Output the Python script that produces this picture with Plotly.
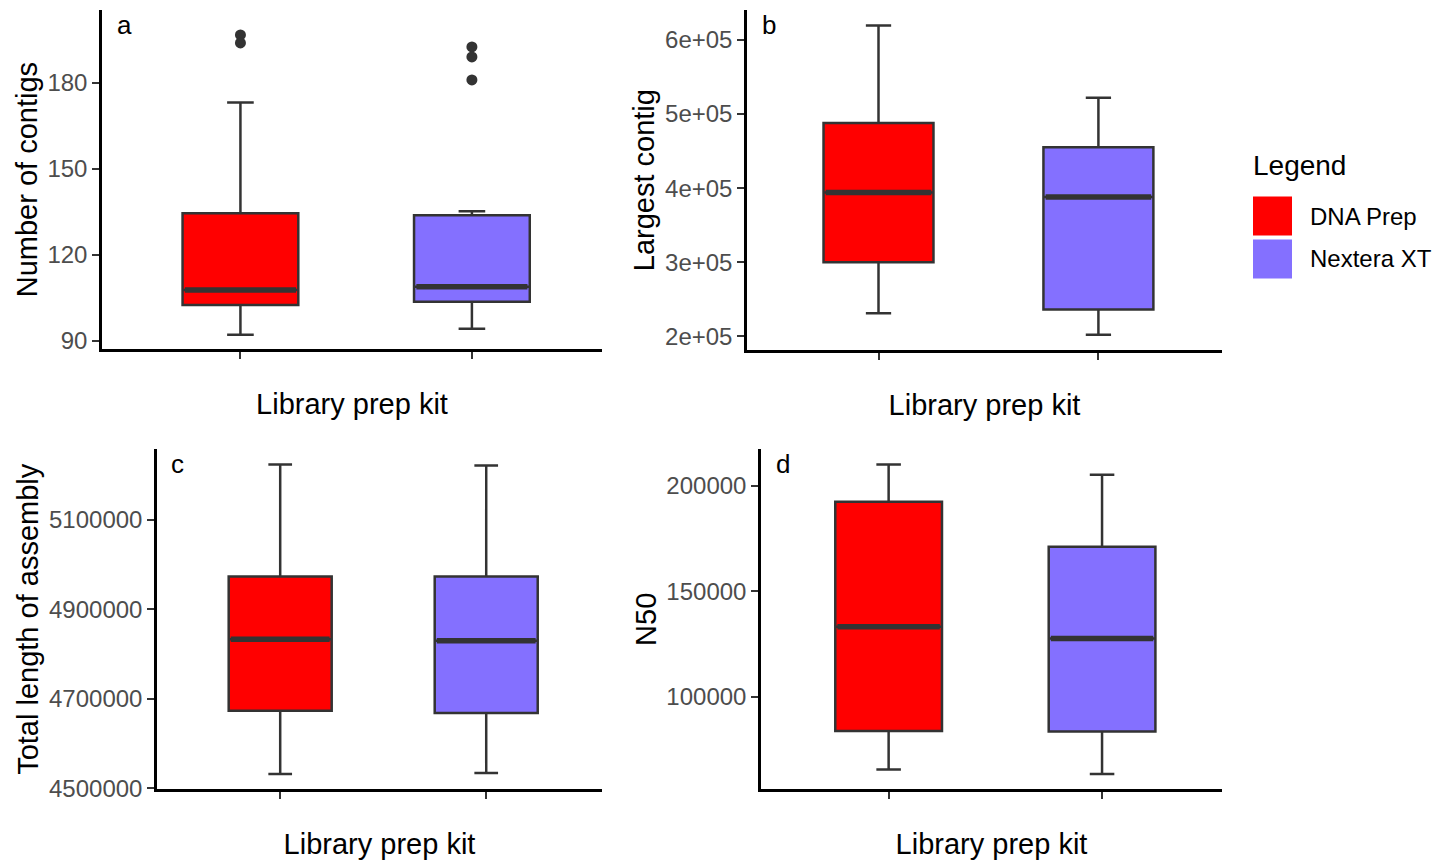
import plotly.graph_objects as go

# ---------------- data ----------------
kits = ["DNA Prep", "Nextera XT"]
kit_pos = [1, 2]
colors = ["#FF0000", "#8470FF"]

# panel a: Number of contigs
a_low = [92.1, 94.2]
a_q1 = [102.5, 103.6]
a_med = [107.7, 108.8]
a_q3 = [134.5, 133.8]
a_high = [173.1, 135.2]
a_outliers = [[196.7, 193.9], [192.5, 189.0, 181.0]]

# panel b: Largest contig
b_low = [231000, 202000]
b_q1 = [300000, 236000]
b_med = [394000, 388000]
b_q3 = [488000, 455000]
b_high = [619600, 522000]

# panel c: Total length of assembly
c_low = [4531800, 4534000]
c_q1 = [4673300, 4668100]
c_med = [4833300, 4829600]
c_q3 = [4973300, 4973300]
c_high = [5223800, 5222000]

# panel d: N50
d_low = [65470, 63360]
d_q1 = [83775, 83440]
d_med = [133160, 127620]
d_q3 = [192430, 171150]
d_high = [210120, 205200]

panels = [
    dict(name="a", title="Number of contigs", low=a_low, q1=a_q1, med=a_med, q3=a_q3, high=a_high,
         out=a_outliers, yrange=[87.0, 205.4], tickvals=[90, 120, 150, 180],
         ticktext=["90", "120", "150", "180"]),
    dict(name="b", title="Largest contig", low=b_low, q1=b_q1, med=b_med, q3=b_q3, high=b_high,
         out=None, yrange=[181000, 640500], tickvals=[200000, 300000, 400000, 500000, 600000],
         ticktext=["2e+05", "3e+05", "4e+05", "5e+05", "6e+05"]),
    dict(name="c", title="Total length of assembly", low=c_low, q1=c_q1, med=c_med, q3=c_q3, high=c_high,
         out=None, yrange=[4497200, 5258400], tickvals=[4500000, 4700000, 4900000, 5100000],
         ticktext=["4500000", "4700000", "4900000", "5100000"]),
    dict(name="d", title="N50", low=d_low, q1=d_q1, med=d_med, q3=d_q3, high=d_high,
         out=None, yrange=[56000, 217400], tickvals=[100000, 150000, 200000],
         ticktext=["100000", "150000", "200000"]),
]

# ---------------- layout geometry (pixels of 1447x861 canvas) ----------------
W, H = 1447, 861
SY = 1.0 / 0.988   # vertical correction for the photographed page
boxes_px = [  # x0, x1, ytop, ybottom
    (102, 602, 10, 350),
    (747, 1222, 10, 351),
    (157, 602, 450, 791),
    (761, 1222, 450, 791),
]
letter_px = [(124, 25), (769, 25), (177, 465), (783, 465)]


def fy(py):
    return 1 - py * SY / H


FONT = "Liberation Sans, Arial, Helvetica, sans-serif"
BOXW = 0.5

fig = go.Figure()
layout = dict(
    width=W, height=H, margin=dict(l=0, r=0, t=0, b=0),
    paper_bgcolor="white", plot_bgcolor="white", showlegend=False,
    font=dict(family=FONT, color="black"),
)
annotations = []
shapes = []

for i, p in enumerate(panels):
    k = "" if i == 0 else str(i + 1)
    xa, ya = "x" + k, "y" + k
    x0, x1, yt, yb = boxes_px[i]
    for j in range(2):
        fig.add_trace(go.Box(
            x=[kit_pos[j]], q1=[p["q1"][j]], median=[p["med"][j]], q3=[p["q3"][j]],
            lowerfence=[p["low"][j]], upperfence=[p["high"][j]],
            fillcolor=colors[j], line=dict(color="#333333", width=2.5),
            width=BOXW, whiskerwidth=0.23, boxpoints=False, name=kits[j],
            xaxis=xa, yaxis=ya, hoverinfo="skip",
        ))
        # thick median line (ggplot fatten)
        fig.add_trace(go.Scatter(
            x=[kit_pos[j] - BOXW / 2 + 0.01, kit_pos[j] + BOXW / 2 - 0.01],
            y=[p["med"][j], p["med"][j]], mode="lines",
            line=dict(color="#333333", width=5.5), xaxis=xa, yaxis=ya, hoverinfo="skip",
        ))
        if p["out"] is not None and p["out"][j]:
            fig.add_trace(go.Scatter(
                x=[kit_pos[j]] * len(p["out"][j]), y=p["out"][j], mode="markers",
                marker=dict(color="#333333", size=11), xaxis=xa, yaxis=ya, hoverinfo="skip",
            ))
    layout["xaxis" + k] = dict(
        domain=[x0 / W, x1 / W], anchor=ya, range=[0.402, 2.562],
        tickvals=kit_pos, ticktext=["", ""], showticklabels=False,
        ticks="outside", ticklen=7, tickwidth=2.2, tickcolor="#333333",
        showline=True, linecolor="black", linewidth=2.5, showgrid=False, zeroline=False,
        title=dict(text="Library prep kit", font=dict(size=29, color="black"), standoff=36),
        fixedrange=True,
    )
    layout["yaxis" + k] = dict(
        domain=[fy(yb), fy(yt)], anchor=xa, range=p["yrange"],
        tickvals=p["tickvals"], ticktext=p["ticktext"],
        tickfont=dict(size=24, color="#4D4D4D"),
        ticks="outside", ticklen=7, tickwidth=2.2, tickcolor="#333333",
        showline=True, linecolor="black", linewidth=2.5, showgrid=False, zeroline=False,
        title=dict(text=p["title"], font=dict(size=29, color="black"), standoff=2),
        fixedrange=True,
    )
    lx, ly = letter_px[i]
    annotations.append(dict(
        text=p["name"], x=lx / W, y=fy(ly), xref="paper", yref="paper",
        showarrow=False, font=dict(size=26, color="black"), xanchor="center", yanchor="middle",
    ))

# manual legend (large ggplot-style keys)
annotations.append(dict(text="Legend", x=1251 / W, y=fy(166), xref="paper", yref="paper",
                        showarrow=False, xanchor="left", yanchor="middle",
                        font=dict(size=28, color="black")))
key_y = [(197, 236), (240, 279)]
for j in range(2):
    ky0, ky1 = key_y[j]
    shapes.append(dict(type="rect", xref="paper", yref="paper",
                       x0=1253 / W, x1=1292 / W, y0=fy(ky1), y1=fy(ky0),
                       fillcolor=colors[j], line=dict(width=0)))
    annotations.append(dict(text=kits[j], x=1308 / W, y=fy((ky0 + ky1) / 2),
                            xref="paper", yref="paper", showarrow=False,
                            xanchor="left", yanchor="middle",
                            font=dict(size=24, color="black")))

layout["annotations"] = annotations
layout["shapes"] = shapes
fig.update_layout(**layout)

page_css = (
    "var de=document.documentElement, b=document.body;"
    "de.style.margin='0';de.style.padding='0';de.style.overflow='hidden';"
    "b.style.margin='0';b.style.padding='0';b.style.overflow='hidden';"
)
fig.write_html("out.html", config={"displayModeBar": False}, post_script=page_css)
